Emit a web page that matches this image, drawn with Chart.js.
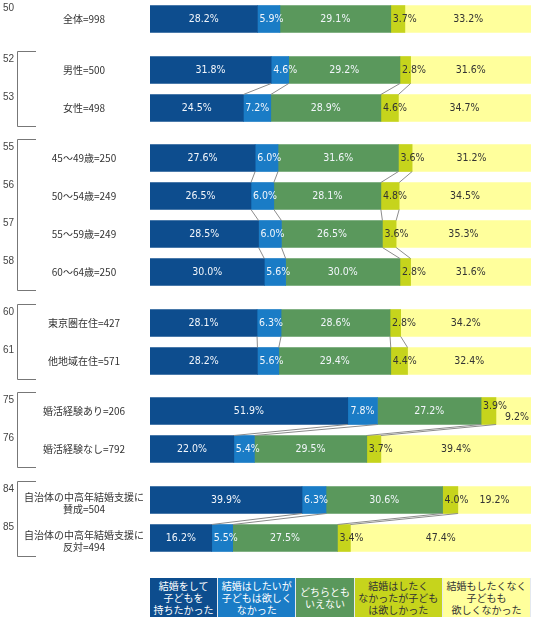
<!DOCTYPE html>
<html>
<head>
<meta charset="utf-8">
<script src="https://cdn.jsdelivr.net/npm/chart.js@4"></script>
<style>
html,body{margin:0;padding:0;background:#fff;}
#wrap{position:relative;width:540px;height:623px;overflow:hidden;}
#wrap canvas{position:absolute;left:0;}
#legend{position:absolute;left:150px;top:578px;width:381px;height:39px;display:flex;font-family:"Noto Sans CJK JP",sans-serif;font-size:10px;line-height:12px;}
#legend div{flex:1 1 auto;display:flex;align-items:center;justify-content:center;text-align:center;border-right:1px solid #e4e9ef;white-space:nowrap;}
</style>
</head>
<body>
<div id="wrap"><div id="legend"></div></div>
<script>
// rows (top to bottom)
const rowLabels = [
  '全体=998', '男性=500', '女性=498',
  '45～49歳=250', '50～54歳=249', '55～59歳=249', '60～64歳=250',
  '東京圏在住=427', '他地域在住=571',
  '婚活経験あり=206', '婚活経験なし=792',
  ['自治体の中高年結婚支援に', '賛成=504'], ['自治体の中高年結婚支援に', '反対=494']
];
const rowNums = [50, 52, 53, 55, 56, 57, 58, 60, 61, 75, 76, 84, 85];
const groupSizes = [1, 2, 4, 2, 2, 2];

const seriesNames = [
  ['結婚をして', '子どもを', '持ちたかった'],
  ['結婚はしたいが', '子どもは欲しく', 'なかった'],
  ['どちらとも', 'いえない'],
  ['結婚はしたく', 'なかったが子ども', 'は欲しかった'],
  ['結婚もしたくなく', '子どもも', '欲しくなかった']
];
const wantBoth   = [28.2, 31.8, 24.5, 27.6, 26.5, 28.5, 30.0, 28.1, 28.2, 51.9, 22.0, 39.9, 16.2];
const marryOnly  = [5.9, 4.6, 7.2, 6.0, 6.0, 6.0, 5.6, 6.3, 5.6, 7.8, 5.4, 6.3, 5.5];
const undecided  = [29.1, 29.2, 28.9, 31.6, 28.1, 26.5, 30.0, 28.6, 29.4, 27.2, 29.5, 30.6, 27.5];
const childOnly  = [3.7, 2.8, 4.6, 3.6, 4.8, 3.6, 2.8, 2.8, 4.4, 3.9, 3.7, 4.0, 3.4];
const wantNeither= [33.2, 31.6, 34.7, 31.2, 34.5, 35.3, 31.6, 34.2, 32.4, 9.2, 39.4, 19.2, 47.4];
const series = [wantBoth, marryOnly, undecided, childOnly, wantNeither];

const colors = ['#0d4d8e', '#1a7cc6', '#5a985c', '#c6d41c', '#ffff9c'];
const textColors = ['#f2f6fb', '#f2f6fb', '#f2f6fb', '#333', '#333'];
const ROW_H = 38, GROUP_GAP = 12.5;

const overlay = {
  id: 'overlay',
  afterDatasetsDraw(chart){
    const ctx = chart.ctx, area = chart.chartArea;
    const n = chart.data.labels.length;
    const metas = chart.data.datasets.map((d,i)=>chart.getDatasetMeta(i));
    const start = chart.options.plugins.overlay.start;
    ctx.save();
    // lines between the bars of a group
    ctx.strokeStyle = '#8c8c8c'; ctx.lineWidth = 1;
    for (let r=0; r<n-1; r++){
      for (let k=0; k<metas.length-1; k++){
        const a = metas[k].data[r], b = metas[k].data[r+1];
        ctx.beginPath(); ctx.moveTo(a.x, a.y + a.height/2); ctx.lineTo(b.x, b.y - b.height/2); ctx.stroke();
      }
    }
    // value labels
    ctx.font = '10.5px "DejaVu Sans Condensed", sans-serif';
    ctx.textBaseline = 'middle'; ctx.textAlign = 'left';
    for (let r=0; r<n; r++){
      const items = [];
      metas.forEach((m,k)=>{
        const el = m.data[r];
        const txt = chart.data.datasets[k].data[r].toFixed(1) + '%';
        const w = ctx.measureText(txt).width;
        const segW = el.x - el.base;
        let left = segW < w + 4 ? el.base + 2 : (el.base + el.x)/2 - w/2;
        const it = { txt, left, w, y: el.y, color: textColors[k] };
        const prev = items[items.length-1];
        if (prev && left < prev.left + prev.w){ it.left = prev.left + prev.w - 2; prev.y -= 5; it.y += 6; }
        items.push(it);
      });
      items.forEach(it=>{ ctx.fillStyle = it.color; ctx.fillText(it.txt, it.left, it.y); });
    }
    // row labels
    ctx.textAlign = 'center'; ctx.fillStyle = '#333';
    ctx.font = '10px "Noto Sans CJK JP", sans-serif';
    chart.data.labels.forEach((lab,i)=>{
      const y = chart.scales.y.getPixelForValue(i);
      if (Array.isArray(lab)){ ctx.fillText(lab[0], 84, y - 3); ctx.fillText(lab[1], 84, y + 9); }
      else ctx.fillText(lab, 84, y);
    });
    // spreadsheet row numbers
    ctx.textAlign = 'left'; ctx.fillStyle = '#444';
    ctx.font = '10px "Liberation Sans", sans-serif';
    chart.data.labels.forEach((lab,i)=>{
      ctx.fillText(String(rowNums[start+i]), 3, chart.scales.y.getPixelForValue(i) - 11);
    });
    // bracket
    if (n > 1){
      ctx.strokeStyle = '#777';
      ctx.beginPath();
      ctx.moveTo(36, area.top + 0.5); ctx.lineTo(17.5, area.top + 0.5);
      ctx.lineTo(17.5, area.bottom - 0.5); ctx.lineTo(36, area.bottom - 0.5);
      ctx.stroke();
    }
    ctx.restore();
  }
};

const wrap = document.getElementById('wrap');
let start = 0, yPos = 0;
groupSizes.forEach(size=>{
  const cv = document.createElement('canvas');
  cv.width = 540; cv.height = size * ROW_H;
  cv.style.top = Math.round(yPos) + 'px';
  wrap.appendChild(cv);
  const idx = [...Array(size).keys()].map(i=>start+i);
  new Chart(cv, {
    type: 'bar',
    data: {
      labels: idx.map(i=>rowLabels[i]),
      datasets: series.map((s,k)=>({
        label: seriesNames[k].join(''),
        data: idx.map(i=>s[i]),
        backgroundColor: colors[k],
        borderWidth: 0,
        barThickness: 27
      }))
    },
    options: {
      indexAxis: 'y',
      responsive: false,
      animation: false,
      layout: { padding: { left: 150, right: 9, top: 0, bottom: 0 } },
      scales: {
        x: { stacked: true, min: 0, max: 100, display: false },
        y: { stacked: true, display: false }
      },
      plugins: { legend: { display: false }, tooltip: { enabled: false }, overlay: { start } }
    },
    plugins: [overlay]
  });
  start += size;
  yPos += size * ROW_H + GROUP_GAP;
});

// legend boxes
const legend = document.getElementById('legend');
seriesNames.forEach((lines,k)=>{
  const d = document.createElement('div');
  d.style.background = colors[k];
  d.style.color = k < 3 ? '#fff' : '#333';
  d.innerHTML = lines.join('<br>');
  legend.appendChild(d);
});
</script>
</body>
</html>
